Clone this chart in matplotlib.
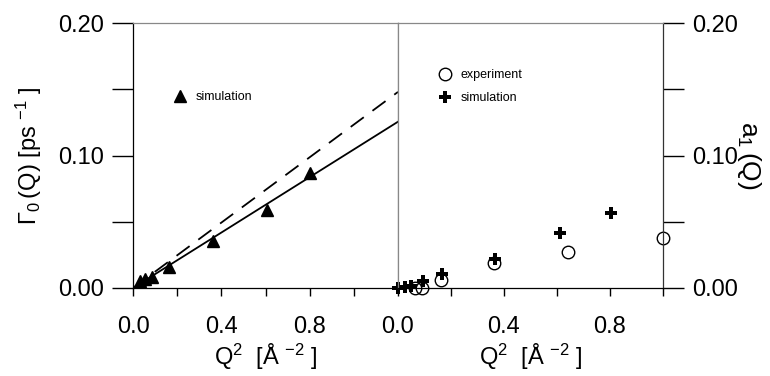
import matplotlib.pyplot as plt
from matplotlib.ticker import FixedLocator

plt.rcParams['font.family'] = ['Liberation Sans', 'DejaVu Sans']
plt.rcParams['mathtext.default'] = 'regular'

# left panel: Gamma_0(Q) from simulation
q2_sim_left = [0.03, 0.054, 0.085, 0.163, 0.363, 0.605, 0.80]
gamma_sim = [0.005, 0.0068, 0.0085, 0.016, 0.0357, 0.0589, 0.087]
fit_x = [0.0, 1.2]
fit_solid = [0.0, 0.1255]
fit_dashed = [0.0, 0.148]

# right panel: a1(Q)
q2_sim_right = [0.0, 0.025, 0.05, 0.094, 0.166, 0.366, 0.61, 0.805]
a1_sim = [0.0, 0.0008, 0.0015, 0.0053, 0.0106, 0.0217, 0.0413, 0.0568]
q2_exp = [0.063, 0.092, 0.161, 0.361, 0.64, 1.0]
a1_exp = [0.0, 0.0, 0.006, 0.019, 0.0274, 0.038]

fig = plt.figure(figsize=(7.7, 3.76), dpi=100)
ax1 = fig.add_axes([133/770, 88/376, 265/770, 265/376])
ax2 = fig.add_axes([398/770, 88/376, 265/770, 265/376])

ax1.plot(fit_x, fit_solid, color='black', lw=1.3)
ax1.plot(fit_x, fit_dashed, color='black', lw=1.3, dashes=(9, 6))
ax1.plot(q2_sim_left, gamma_sim, '^', color='black', ms=8, label='simulation')

ax2.plot(q2_exp, a1_exp, 'o', mfc='none', mec='black', mew=1.0, ms=9,
         label='experiment', clip_on=False)
ax2.plot(q2_sim_right, a1_sim, 'P', color='black', ms=9, mew=0,
         label='simulation', clip_on=False)

for ax in (ax1, ax2):
    ax.set_ylim(0, 0.2)
    ax.yaxis.set_major_locator(FixedLocator([0.0, 0.1, 0.2]))
    ax.yaxis.set_minor_locator(FixedLocator([0.05, 0.15]))
    ax.xaxis.set_major_locator(FixedLocator([0.0, 0.4, 0.8]))
    ax.xaxis.set_minor_locator(FixedLocator([0.2, 0.6, 1.0]))
    for s in ax.spines.values():
        s.set_color('#888888')
        s.set_linewidth(0.9)
    ax.spines['bottom'].set_color('black')
    ax.tick_params(axis='x', which='both', direction='out', length=6,
                   width=1.0, pad=14, labelsize=17)
    ax.tick_params(axis='y', which='both', direction='out', length=15,
                   width=1.0, pad=6, labelsize=17)
    ax.yaxis.set_major_formatter(plt.FuncFormatter(lambda v, p: f'{v:.2f}'))
    ax.xaxis.set_major_formatter(plt.FuncFormatter(lambda v, p: f'{v:.1f}'))
    ax.set_xlabel('Q$^2$  [Å $^{-2}$ ]', fontsize=17, labelpad=3)

ax1.set_xlim(0, 1.2)
ax1.spines['left'].set_color('black')
ax1.set_ylabel(r'$\Gamma_0\,$(Q) [ps $^{-1}$ ]', fontsize=17, labelpad=10)

ax2.set_xlim(0, 1.0)
ax2.yaxis.tick_right()
ax2.yaxis.set_label_position('right')
ax2.spines['right'].set_color('#333333')
ax2.set_ylabel(r'a$_1\,$(Q)', fontsize=19, rotation=270, labelpad=18)

ax1.legend(loc='center left', bbox_to_anchor=(0.11, 0.72), frameon=False,
           numpoints=1, handlelength=1.0, handletextpad=0.8, fontsize=9)
ax2.legend(loc='center left', bbox_to_anchor=(0.11, 0.76), frameon=False,
           numpoints=1, handlelength=1.0, handletextpad=0.8, fontsize=9,
           labelspacing=0.9)

fig.savefig('out.png', dpi=100)
